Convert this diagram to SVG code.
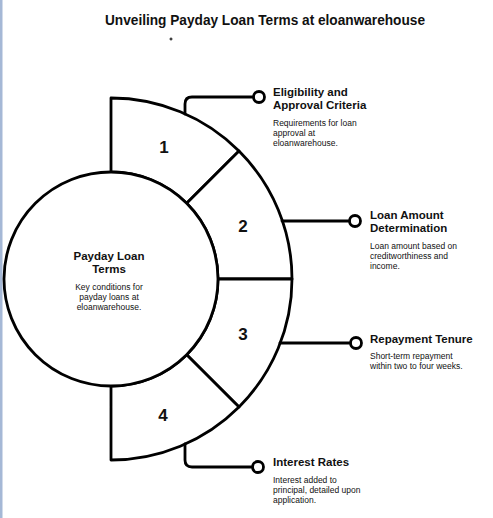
<svg xmlns="http://www.w3.org/2000/svg" width="493" height="518" viewBox="0 0 493 518">
<defs>
<style>
.shape{fill:#fff;stroke:#000;stroke-width:2.8;stroke-linejoin:round;stroke-linecap:round}
.line{fill:none;stroke:#000;stroke-width:2.8;stroke-linecap:round;stroke-linejoin:round}
.dot{fill:#fff;stroke:#000;stroke-width:2.8}
text{font-family:"Liberation Sans",Arial,sans-serif;fill:#111}
.title{font-size:14px;font-weight:bold;text-anchor:middle}
.head{font-size:11.5px;font-weight:bold}
.desc{font-size:8.5px}
.num{font-size:17px;font-weight:bold;text-anchor:middle}
.ctr{text-anchor:middle}
</style>
</defs>
<rect x="0" y="0" width="493" height="518" fill="#fff"/>
<rect x="0" y="0" width="2.5" height="518" fill="#a5b8d6"/>
<text class="title" x="265" y="25" textLength="320" lengthAdjust="spacingAndGlyphs">Unveiling Payday Loan Terms at eloanwarehouse</text>
<path d="M169.5,39 H172.5 M171,37.5 V40.5" stroke="#000" stroke-width="1"/>

<g id="ring">
<g id="seg1">
<path class="shape" d="M111,98 A181,181 0 0 1 239,151 L186.7,203.3 A107,107 0 0 0 111,172 Z"/>
<text class="num" x="164" y="153">1</text>
</g>
<g id="seg2">
<path class="shape" d="M239,151 A181,181 0 0 1 292,279 L218,279 A107,107 0 0 0 186.7,203.3 Z"/>
<text class="num" x="243" y="232">2</text>
</g>
<g id="seg3">
<path class="shape" d="M292,279 A181,181 0 0 1 239,407 L186.7,354.7 A107,107 0 0 0 218,279 Z"/>
<text class="num" x="243" y="340">3</text>
</g>
<g id="seg4">
<path class="shape" d="M239,407 A181,181 0 0 1 111,460 L111,386 A107,107 0 0 0 186.7,354.7 Z"/>
<text class="num" x="163" y="421">4</text>
</g>
</g>

<g id="center">
<circle class="shape" cx="111" cy="279" r="107"/>
<text class="head ctr" x="109" y="260">Payday Loan</text>
<text class="head ctr" x="109" y="273">Terms</text>
<text class="desc ctr" x="109" y="290">Key conditions for</text>
<text class="desc ctr" x="109" y="300">payday loans at</text>
<text class="desc ctr" x="109" y="310">eloanwarehouse.</text>
</g>

<g id="connectors">
<path class="line" d="M185,114 V104 Q185,97 192,97 H253.5"/>
<circle class="dot" cx="259" cy="97" r="5.5"/>
<path class="line" d="M282,221 H349.5"/>
<circle class="dot" cx="355" cy="221" r="5.5"/>
<path class="line" d="M280,343 H350.5"/>
<circle class="dot" cx="356" cy="343" r="5.5"/>
<path class="line" d="M185,444 V460 Q185,467 192,467 H252.5"/>
<circle class="dot" cx="258" cy="467" r="5.5"/>
</g>

<g id="label1">
<text class="head" x="273" y="96">Eligibility and</text>
<text class="head" x="273" y="109">Approval Criteria</text>
<text class="desc" x="273" y="126">Requirements for loan</text>
<text class="desc" x="273" y="136">approval at</text>
<text class="desc" x="273" y="146">eloanwarehouse.</text>
</g>
<g id="label2">
<text class="head" x="370" y="219">Loan Amount</text>
<text class="head" x="370" y="232">Determination</text>
<text class="desc" x="370" y="249">Loan amount based on</text>
<text class="desc" x="370" y="259">creditworthiness and</text>
<text class="desc" x="370" y="269">income.</text>
</g>
<g id="label3">
<text class="head" x="370" y="343">Repayment Tenure</text>
<text class="desc" x="370" y="359">Short-term repayment</text>
<text class="desc" x="370" y="369">within two to four weeks.</text>
</g>
<g id="label4">
<text class="head" x="273" y="466">Interest Rates</text>
<text class="desc" x="273" y="483">Interest added to</text>
<text class="desc" x="273" y="493">principal, detailed upon</text>
<text class="desc" x="273" y="503">application.</text>
</g>
</svg>
